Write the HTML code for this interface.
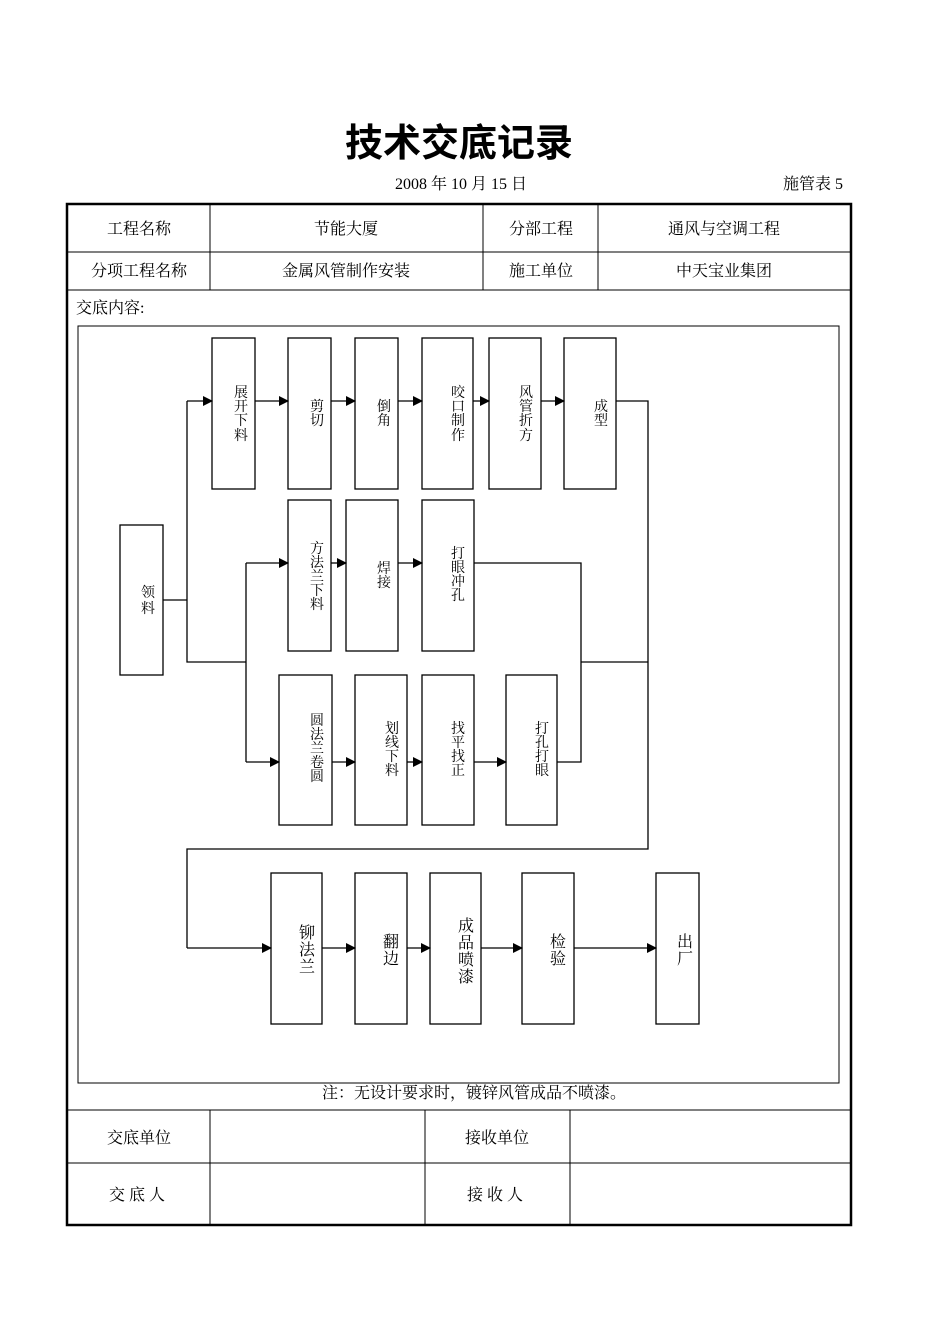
<!DOCTYPE html>
<html><head><meta charset="utf-8"><style>
html,body{margin:0;padding:0;background:#fff;}
svg{display:block;}
text{font-family:"Liberation Serif","Noto Serif CJK SC","Noto Sans CJK SC",serif;fill:#000;}
.t{font-size:16px;}
.s{font-size:14px;}
.m{font-size:16px;}
</style></head><body>
<svg width="950" height="1344" viewBox="0 0 950 1344" xmlns="http://www.w3.org/2000/svg">
<defs><marker id="a" markerWidth="10" markerHeight="10" refX="9" refY="5" orient="auto" markerUnits="userSpaceOnUse"><path d="M0,0 L10,5 L0,10 z" fill="#000"/></marker></defs>
<text x="459" y="156" text-anchor="middle" style="font-family:'Liberation Sans','Noto Sans CJK SC',sans-serif;font-weight:bold;font-size:38px">技术交底记录</text>
<text x="395" y="189" class="t">2008 年 10 月 15 日</text>
<text x="843" y="189" class="t" text-anchor="end">施管表 5</text>
<g stroke="#000" fill="none">
<rect x="67" y="204" width="784" height="1021" stroke-width="2.5"/>
<line x1="67" y1="252" x2="851" y2="252"/>
<line x1="67" y1="290" x2="851" y2="290"/>
<line x1="67" y1="1110" x2="851" y2="1110"/>
<line x1="67" y1="1163" x2="851" y2="1163"/>
<line x1="210" y1="204" x2="210" y2="290"/>
<line x1="483" y1="204" x2="483" y2="290"/>
<line x1="598" y1="204" x2="598" y2="290"/>
<line x1="210" y1="1110" x2="210" y2="1225"/>
<line x1="425" y1="1110" x2="425" y2="1225"/>
<line x1="570" y1="1110" x2="570" y2="1225"/>
<rect x="78" y="326" width="761" height="757"/>
</g>
<g class="t" text-anchor="middle">
<text x="139" y="234">工程名称</text>
<text x="346" y="234">节能大厦</text>
<text x="541" y="234">分部工程</text>
<text x="724" y="234">通风与空调工程</text>
<text x="139" y="276">分项工程名称</text>
<text x="346" y="276">金属风管制作安装</text>
<text x="541" y="276">施工单位</text>
<text x="724" y="276">中天宝业集团</text>
<text x="139" y="1143">交底单位</text>
<text x="497" y="1143">接收单位</text>
<text x="139" y="1200" letter-spacing="4">交底人</text>
<text x="497" y="1200" letter-spacing="4">接收人</text>
<text x="474" y="1098">注：无设计要求时，镀锌风管成品不喷漆。</text>
</g>
<text x="76" y="313" class="t">交底内容:</text>
<g stroke="#000" fill="#fff" stroke-width="1.3">
<rect x="212" y="338" width="43" height="151"/>
<rect x="288" y="338" width="43" height="151"/>
<rect x="355" y="338" width="43" height="151"/>
<rect x="422" y="338" width="51" height="151"/>
<rect x="489" y="338" width="52" height="151"/>
<rect x="564" y="338" width="52" height="151"/>
<rect x="288" y="500" width="43" height="151"/>
<rect x="346" y="500" width="52" height="151"/>
<rect x="422" y="500" width="52" height="151"/>
<rect x="279" y="675" width="53" height="150"/>
<rect x="355" y="675" width="52" height="150"/>
<rect x="422" y="675" width="52" height="150"/>
<rect x="506" y="675" width="51" height="150"/>
<rect x="120" y="525" width="43" height="150"/>
<rect x="271" y="873" width="51" height="151"/>
<rect x="355" y="873" width="52" height="151"/>
<rect x="430" y="873" width="51" height="151"/>
<rect x="522" y="873" width="52" height="151"/>
<rect x="656" y="873" width="43" height="151"/>
</g>
<g stroke="#000" fill="none" stroke-width="1.3">
<polyline points="163,600 187,600"/>
<polyline points="187,401 187,662 246,662"/>
<polyline points="246,563 246,762"/>
<line x1="187" y1="401" x2="212" y2="401" marker-end="url(#a)"/>
<line x1="255" y1="401" x2="288" y2="401" marker-end="url(#a)"/>
<line x1="331" y1="401" x2="355" y2="401" marker-end="url(#a)"/>
<line x1="398" y1="401" x2="422" y2="401" marker-end="url(#a)"/>
<line x1="473" y1="401" x2="489" y2="401" marker-end="url(#a)"/>
<line x1="541" y1="401" x2="564" y2="401" marker-end="url(#a)"/>
<polyline points="616,401 648,401 648,849 187,849 187,948"/>
<line x1="246" y1="563" x2="288" y2="563" marker-end="url(#a)"/>
<line x1="331" y1="563" x2="346" y2="563" marker-end="url(#a)"/>
<line x1="398" y1="563" x2="422" y2="563" marker-end="url(#a)"/>
<polyline points="474,563 581,563 581,762 557,762"/>
<line x1="581" y1="662" x2="648" y2="662"/>
<line x1="246" y1="762" x2="279" y2="762" marker-end="url(#a)"/>
<line x1="332" y1="762" x2="355" y2="762" marker-end="url(#a)"/>
<line x1="407" y1="762" x2="422" y2="762" marker-end="url(#a)"/>
<line x1="474" y1="762" x2="506" y2="762" marker-end="url(#a)"/>
<line x1="187" y1="948" x2="271" y2="948" marker-end="url(#a)"/>
<line x1="322" y1="948" x2="355" y2="948" marker-end="url(#a)"/>
<line x1="407" y1="948" x2="430" y2="948" marker-end="url(#a)"/>
<line x1="481" y1="948" x2="522" y2="948" marker-end="url(#a)"/>
<line x1="574" y1="948" x2="656" y2="948" marker-end="url(#a)"/>
</g>
<g class="s" text-anchor="middle">
<text x="241" y="397">展</text><text x="241" y="411">开</text><text x="241" y="425">下</text><text x="241" y="440">料</text>
<text x="317" y="411">剪</text><text x="317" y="425">切</text>
<text x="384" y="411">倒</text><text x="384" y="425">角</text>
<text x="458" y="397">咬</text><text x="458" y="411">口</text><text x="458" y="425">制</text><text x="458" y="440">作</text>
<text x="526" y="397">风</text><text x="526" y="411">管</text><text x="526" y="425">折</text><text x="526" y="440">方</text>
<text x="601" y="411">成</text><text x="601" y="425">型</text>
<text x="317" y="553">方</text><text x="317" y="567">法</text><text x="317" y="581">兰</text><text x="317" y="595">下</text><text x="317" y="609">料</text>
<text x="384" y="573">焊</text><text x="384" y="587">接</text>
<text x="458" y="558">打</text><text x="458" y="572">眼</text><text x="458" y="586">冲</text><text x="458" y="600">孔</text>
<text x="317" y="725">圆</text><text x="317" y="739">法</text><text x="317" y="753">兰</text><text x="317" y="767">卷</text><text x="317" y="781">圆</text>
<text x="392" y="733">划</text><text x="392" y="747">线</text><text x="392" y="761">下</text><text x="392" y="775">料</text>
<text x="458" y="733">找</text><text x="458" y="747">平</text><text x="458" y="761">找</text><text x="458" y="775">正</text>
<text x="542" y="733">打</text><text x="542" y="747">孔</text><text x="542" y="761">打</text><text x="542" y="775">眼</text>
<text x="148" y="597">领</text><text x="148" y="613">料</text>
</g>
<g class="m" text-anchor="middle">
<text x="307" y="938">铆</text><text x="307" y="955">法</text><text x="307" y="972">兰</text>
<text x="391" y="947">翻</text><text x="391" y="964">边</text>
<text x="466" y="931">成</text><text x="466" y="948">品</text><text x="466" y="965">喷</text><text x="466" y="982">漆</text>
<text x="558" y="947">检</text><text x="558" y="964">验</text>
<text x="685" y="947">出</text><text x="685" y="964">厂</text>
</g>
</svg>
</body></html>
